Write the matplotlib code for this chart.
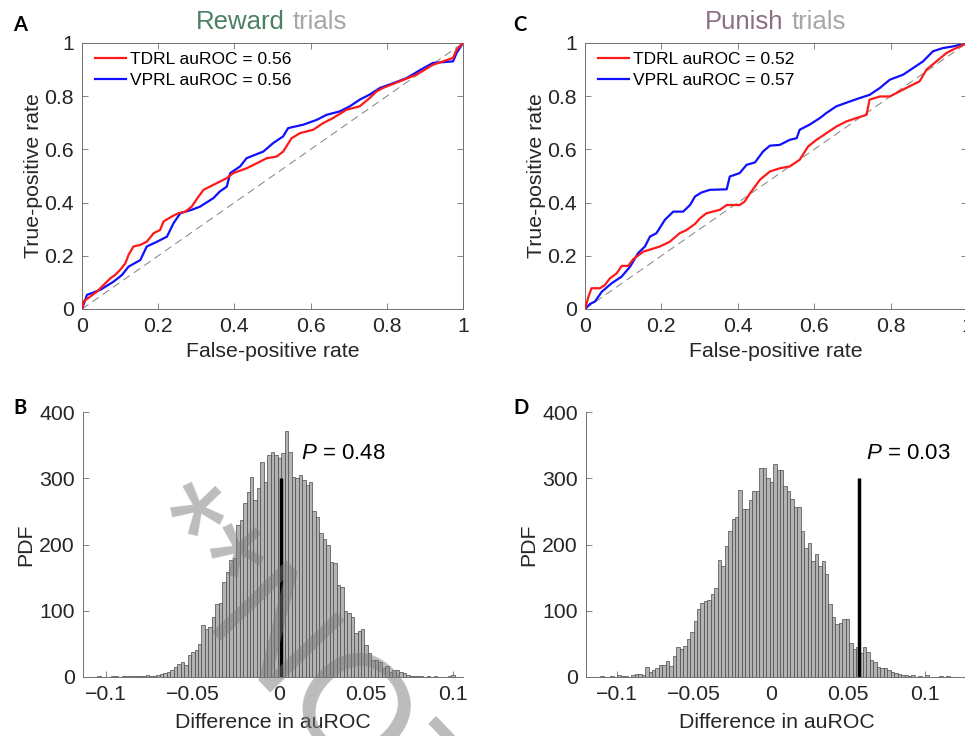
import numpy as np
import matplotlib
matplotlib.use("Agg")
import matplotlib.pyplot as plt

plt.rcParams['font.family'] = ['Liberation Sans', 'DejaVu Sans']
plt.rcParams['mathtext.fontset'] = 'custom'
plt.rcParams['mathtext.it'] = 'Liberation Sans:italic'
plt.rcParams['mathtext.rm'] = 'Liberation Sans'

# ---------------- data ----------------
# ROC curves, panel A (Reward trials)
A_tdrl_fpr = [0, 0.004, 0.039, 0.074, 0.087, 0.10, 0.114, 0.122, 0.135, 0.153, 0.170, 0.188, 0.205,
              0.214, 0.236, 0.253, 0.271, 0.288, 0.306, 0.319, 0.345, 0.362, 0.380, 0.397, 0.432,
              0.459, 0.485, 0.511, 0.528, 0.550, 0.572, 0.607, 0.633, 0.659, 0.694, 0.729, 0.755,
              0.773, 0.790, 0.834, 0.878, 0.921, 0.974, 0.983, 1.0]
A_tdrl_tpr = [0, 0.028, 0.065, 0.115, 0.128, 0.147, 0.172, 0.203, 0.235, 0.241, 0.253, 0.285, 0.297,
              0.329, 0.348, 0.360, 0.366, 0.385, 0.423, 0.448, 0.467, 0.479, 0.492, 0.511, 0.529,
              0.548, 0.567, 0.573, 0.592, 0.642, 0.661, 0.674, 0.699, 0.718, 0.749, 0.762, 0.793,
              0.818, 0.831, 0.856, 0.881, 0.918, 0.944, 0.975, 1.0]
A_vprl_fpr = [0, 0.013, 0.048, 0.083, 0.105, 0.122, 0.153, 0.170, 0.197, 0.223, 0.240, 0.258, 0.288,
              0.310, 0.345, 0.362, 0.380, 0.389, 0.415, 0.432, 0.476, 0.502, 0.528, 0.541, 0.581,
              0.616, 0.642, 0.677, 0.703, 0.729, 0.755, 0.782, 0.817, 0.852, 0.886, 0.921, 0.974,
              0.983, 1.0]
A_vprl_tpr = [0, 0.053, 0.072, 0.103, 0.128, 0.159, 0.184, 0.235, 0.253, 0.272, 0.322, 0.360, 0.373,
              0.385, 0.417, 0.442, 0.460, 0.511, 0.536, 0.567, 0.592, 0.624, 0.649, 0.680, 0.693,
              0.711, 0.730, 0.743, 0.762, 0.787, 0.806, 0.831, 0.849, 0.868, 0.897, 0.925, 0.931,
              0.962, 1.0]

# ROC curves, panel C (Punish trials)
C_tdrl_fpr = [0, 0.009, 0.017, 0.039, 0.052, 0.065, 0.083, 0.096, 0.113, 0.126, 0.153, 0.174, 0.196,
              0.222, 0.248, 0.266, 0.288, 0.301, 0.318, 0.353, 0.371, 0.405, 0.418, 0.432, 0.458,
              0.484, 0.510, 0.536, 0.562, 0.584, 0.606, 0.632, 0.658, 0.684, 0.711, 0.737, 0.745,
              0.772, 0.798, 0.841, 0.876, 0.894, 0.920, 0.946, 0.963, 0.981, 1.0]
C_tdrl_tpr = [0, 0.046, 0.078, 0.078, 0.090, 0.115, 0.134, 0.162, 0.162, 0.187, 0.216, 0.225, 0.235,
              0.253, 0.285, 0.297, 0.320, 0.341, 0.360, 0.373, 0.391, 0.391, 0.404, 0.435, 0.486,
              0.517, 0.529, 0.536, 0.561, 0.611, 0.636, 0.661, 0.686, 0.705, 0.718, 0.730, 0.787,
              0.799, 0.799, 0.831, 0.856, 0.900, 0.931, 0.962, 0.975, 0.987, 1.0]
C_vprl_fpr = [0, 0.013, 0.026, 0.044, 0.070, 0.096, 0.118, 0.139, 0.157, 0.170, 0.187, 0.209, 0.231,
              0.257, 0.275, 0.288, 0.305, 0.327, 0.371, 0.379, 0.405, 0.423, 0.445, 0.466, 0.484,
              0.510, 0.536, 0.554, 0.562, 0.588, 0.615, 0.632, 0.658, 0.693, 0.719, 0.745, 0.772,
              0.798, 0.833, 0.859, 0.885, 0.911, 0.937, 0.963, 1.0]
C_vprl_tpr = [0, 0.019, 0.028, 0.065, 0.097, 0.122, 0.159, 0.210, 0.235, 0.272, 0.285, 0.335, 0.366,
              0.366, 0.391, 0.423, 0.438, 0.448, 0.450, 0.498, 0.511, 0.542, 0.551, 0.592, 0.614,
              0.617, 0.636, 0.642, 0.674, 0.693, 0.718, 0.737, 0.762, 0.780, 0.793, 0.805, 0.831,
              0.862, 0.881, 0.906, 0.931, 0.969, 0.981, 0.987, 1.0]

A_labels = ["TDRL auROC = 0.56", "VPRL auROC = 0.56"]
C_labels = ["TDRL auROC = 0.52", "VPRL auROC = 0.57"]

# Histograms of auROC differences
B_first_center = -0.104
B_bin_width = 0.002
B_counts = [1, 0, 0, 0, 1, 1, 0, 1, 2, 1, 1, 2, 2, 1, 3, 2, 2, 3, 5, 6, 7, 11, 15, 20, 23, 18,
            33, 37, 41, 50, 78, 73, 76, 91, 110, 112, 144, 158, 177, 180, 229, 237, 262, 280,
            302, 267, 285, 325, 295, 335, 340, 335, 330, 338, 372, 340, 302, 300, 305, 297, 290,
            295, 250, 242, 218, 208, 200, 174, 172, 139, 136, 99, 97, 91, 67, 70, 72, 48, 36, 26,
            26, 23, 13, 16, 8, 11, 11, 8, 6, 3, 1, 2, 2, 1, 0, 2, 0, 1, 0, 0, 0, 1, 3, 0]
B_observed = 0.0007
B_pvalue = "0.48"

D_first_center = -0.110
D_bin_width = 0.00225
D_counts = [1, 0, 0, 1, 0, 3, 2, 1, 0, 3, 5, 5, 3, 15, 7, 10, 13, 18, 18, 24, 16, 32, 46, 43, 47,
            58, 68, 84, 102, 112, 115, 116, 125, 135, 176, 168, 198, 221, 239, 242, 282, 254, 253,
            267, 281, 281, 316, 316, 301, 295, 322, 312, 313, 288, 281, 269, 256, 256, 220, 195,
            202, 175, 186, 168, 175, 156, 110, 90, 80, 82, 88, 87, 52, 42, 45, 36, 46, 37, 25, 22,
            15, 13, 13, 10, 8, 6, 4, 3, 3, 2, 3, 0, 1, 0, 3, 0, 0, 0, 2, 0, 2]
D_observed = 0.0575
D_pvalue = "0.03"
obs_height = 300

roc_ticks = [0, 0.2, 0.4, 0.6, 0.8, 1]
roc_ticklabels = ["0", "0.2", "0.4", "0.6", "0.8", "1"]
hist_xticks = [-0.1, -0.05, 0, 0.05, 0.1]
hist_xticklabels = ["\u22120.1", "\u22120.05", "0", "0.05", "0.1"]
hist_yticks = [0, 100, 200, 300, 400]

# ---------------- figure ----------------
W, H = 965, 736
fig = plt.figure(figsize=(W / 100, H / 100), dpi=100)


def box(l, t, r, b):
    return [l / W, 1 - b / H, (r - l) / W, (b - t) / H]


TXT = '#262626'
SP = '#707070'
TICK_FS = 15.3
LAB_FS = 15.3


def style_roc(ax):
    ax.set_xlim(0, 1)
    ax.set_ylim(0, 1)
    ax.set_xticks(roc_ticks)
    ax.set_xticklabels(roc_ticklabels)
    ax.set_yticks(roc_ticks)
    ax.set_yticklabels(roc_ticklabels)
    ax.tick_params(direction='in', top=True, right=True, length=4, width=0.6,
                   colors=SP, labelcolor=TXT, labelsize=TICK_FS, pad=6)
    for s in ax.spines.values():
        s.set_color(SP)
        s.set_linewidth(0.7)
    ax.set_xlabel("False-positive rate", fontsize=LAB_FS, color=TXT, labelpad=4)
    ax.set_ylabel("True-positive rate", fontsize=LAB_FS, color=TXT, labelpad=1)
    ax.plot([0, 1], [0, 1], color='#808080', lw=0.7, dashes=(8, 5), zorder=1)


def style_hist(ax, xlim):
    ax.set_xlim(*xlim)
    ax.set_ylim(0, 400)
    ax.set_xticks(hist_xticks)
    ax.set_xticklabels(hist_xticklabels)
    ax.set_yticks(hist_yticks)
    ax.tick_params(direction='in', length=4, width=0.6, colors=SP, labelcolor=TXT,
                   labelsize=TICK_FS, pad=6)
    for k in ['top', 'right']:
        ax.spines[k].set_visible(False)
    for k in ['left', 'bottom']:
        ax.spines[k].set_color(SP)
        ax.spines[k].set_linewidth(0.7)
    ax.set_xlabel("Difference in auROC", fontsize=LAB_FS, color=TXT, labelpad=6)
    ax.set_ylabel("PDF", fontsize=LAB_FS, color=TXT, labelpad=3)


def roc_panel(rect, tdrl, vprl, labels):
    ax = fig.add_axes(rect)
    style_roc(ax)
    ax.plot(tdrl[0], tdrl[1], color='#ff1a1a', lw=1.6, label=labels[0], zorder=3)
    ax.plot(vprl[0], vprl[1], color='#1010ff', lw=1.6, label=labels[1], zorder=2)
    h, l = ax.get_legend_handles_labels()
    ax.legend(h, l, loc='upper left', bbox_to_anchor=(0.035, 0.965), frameon=False,
              fontsize=12.5, handlelength=1.75, handletextpad=0.25, labelspacing=0.3,
              borderpad=0, borderaxespad=0)
    return ax


def hist_panel(rect, first, width, counts, obs, ptxt, xlim, ptext_xy):
    ax = fig.add_axes(rect)
    style_hist(ax, xlim)
    centers = first + width * np.arange(len(counts))
    ax.bar(centers, counts, width=width, color='#b3b3b3', edgecolor='#4a4a4a',
           linewidth=0.5, zorder=2)
    ax.plot([obs, obs], [0, obs_height], color='black', lw=2.5, solid_capstyle='butt', zorder=3)
    ax.text(ptext_xy[0], ptext_xy[1], r"$P$" + " = " + ptxt, fontsize=16, color='black',
            ha='left', va='center')
    return ax


roc_panel(box(82, 43, 463, 309), (A_tdrl_fpr, A_tdrl_tpr), (A_vprl_fpr, A_vprl_tpr), A_labels)
roc_panel(box(585, 43, 967, 309), (C_tdrl_fpr, C_tdrl_tpr), (C_vprl_fpr, C_vprl_tpr), C_labels)

hist_panel(box(83, 412, 463, 677), B_first_center, B_bin_width, B_counts, B_observed, B_pvalue,
           (-0.1133, 0.1058), (0.0125, 338))
hist_panel(box(586, 412, 967, 677), D_first_center, D_bin_width, D_counts, D_observed, D_pvalue,
           (-0.1203, 0.1275), (0.062, 338))

# titles (two-colour)
def two_colour_title(x_split_l, x_split_r, y, word, colour):
    fig.text(x_split_l / W, 1 - y / H, word, color=colour, fontsize=18.5, ha='right', va='center')
    fig.text(x_split_r / W, 1 - y / H, "trials", color='#a6a6a6', fontsize=18.5, ha='left', va='center')


two_colour_title(285, 293, 22, "Reward", '#4a8064')
two_colour_title(783, 792, 22, "Punish", '#8c6f84')

# panel letters
for letter, x, y in [("A", 13, 25), ("C", 513, 25), ("B", 13, 408), ("D", 513, 408)]:
    fig.text(x / W, 1 - y / H, letter, fontsize=14.5, fontweight='bold', family='Lato',
             ha='left', va='center', color='black')

# watermark
fig.text(200 / W, 1 - 466 / H, "**NOT", fontsize=108, color='#7a7a7a', alpha=0.5,
         rotation=-46, rotation_mode='anchor', ha='left', va='top', zorder=10)

fig.savefig("out.png", dpi=100)
